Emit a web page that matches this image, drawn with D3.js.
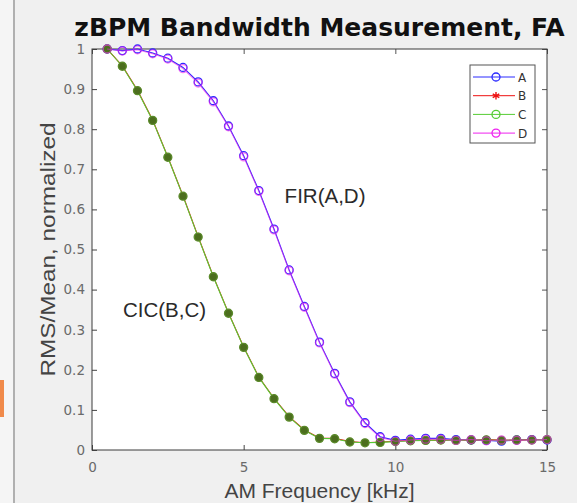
<!DOCTYPE html>
<html>
<head>
<meta charset="utf-8">
<script src="https://cdn.jsdelivr.net/npm/d3@7"></script>
<style>
  body { margin: 0; background: #f0f0f0; }
  svg { display: block; }
</style>
</head>
<body>
<div id="chart"></div>
<script>
// AM frequency (kHz) and normalized RMS/Mean for each channel
const freq = [0.5, 1, 1.5, 2, 2.5, 3, 3.5, 4, 4.5, 5, 5.5, 6, 6.5, 7, 7.5,
              8, 8.5, 9, 9.5, 10, 10.5, 11, 11.5, 12, 12.5, 13, 13.5, 14, 14.5, 15];

const seriesA = [1.0, 0.996, 1.0, 0.99, 0.977, 0.954, 0.918, 0.871, 0.808, 0.734,
                 0.647, 0.551, 0.449, 0.358, 0.269, 0.191, 0.12, 0.068, 0.033, 0.024,
                 0.027, 0.029, 0.029, 0.026, 0.025, 0.024, 0.022, 0.025, 0.026, 0.025];
const seriesB = [1.0, 0.958, 0.897, 0.823, 0.731, 0.634, 0.532, 0.433, 0.342, 0.257,
                 0.182, 0.129, 0.083, 0.05, 0.03, 0.029, 0.021, 0.018, 0.02, 0.022,
                 0.024, 0.025, 0.024, 0.025, 0.024, 0.026, 0.025, 0.024, 0.026, 0.025];
const seriesC = [1.0, 0.957, 0.896, 0.822, 0.73, 0.633, 0.531, 0.432, 0.341, 0.256,
                 0.181, 0.128, 0.082, 0.049, 0.029, 0.028, 0.02, 0.018, 0.019, 0.021,
                 0.023, 0.024, 0.025, 0.024, 0.025, 0.025, 0.024, 0.025, 0.025, 0.026];
const seriesD = [1.0, 0.995, 0.998, 0.988, 0.975, 0.951, 0.915, 0.868, 0.806, 0.731,
                 0.645, 0.549, 0.447, 0.356, 0.267, 0.189, 0.118, 0.066, 0.031, 0.022,
                 0.025, 0.027, 0.027, 0.024, 0.026, 0.023, 0.025, 0.024, 0.025, 0.026];

const seriesNames = ["A", "B", "C", "D"];
const xTicks = [0, 5, 10, 15];
const yTicks = [0, 0.1, 0.2, 0.3, 0.4, 0.5, 0.6, 0.7, 0.8, 0.9, 1];

const titleText = "zBPM Bandwidth Measurement, FA";
const xLabel = "AM Frequency [kHz]";
const yLabel = "RMS/Mean, normalized";
const notes = [{text: "FIR(A,D)", x: 6.35, y: 0.617}, {text: "CIC(B,C)", x: 1.02, y: 0.331}];

const width = 577, height = 503;
const margin = {top: 49, right: 30, bottom: 53, left: 92};

const svg = d3.select("#chart").append("svg")
  .attr("width", width)
  .attr("height", height);

svg.append("rect").attr("width", width).attr("height", height).attr("fill", "#f0f0f0");

// left neighbour panel edge (cropped figure)
svg.append("rect").attr("x", 0).attr("y", 0).attr("width", 13).attr("height", height).attr("fill", "#f5f5f5");
svg.append("line").attr("x1", 14).attr("x2", 14).attr("y1", 0).attr("y2", height)
  .attr("stroke", "#b0b0b0").attr("stroke-width", 2);
svg.append("rect").attr("x", 0).attr("y", 380).attr("width", 4).attr("height", 37).attr("fill", "#f08a4b");

const x = d3.scaleLinear().domain([0, 15]).range([margin.left, width - margin.right]);
const y = d3.scaleLinear().domain([0, 1]).range([height - margin.bottom, margin.top]);

svg.append("rect")
  .attr("x", x(0)).attr("y", y(1))
  .attr("width", x(15) - x(0)).attr("height", y(0) - y(1))
  .attr("fill", "white");

// axes, MATLAB style: ticks inward, box on
const tickFont = g => g.selectAll("text")
  .attr("font-family", "DejaVu Sans").attr("font-size", "13.5px").attr("fill", "#6a6a6a");

svg.append("g").attr("transform", `translate(0,${y(0)})`)
  .call(d3.axisBottom(x).tickValues(xTicks).tickSizeInner(-5).tickSizeOuter(0).tickPadding(12))
  .call(tickFont)
  .call(g => g.select(".domain").remove())
  .call(g => g.selectAll("line").attr("stroke", "#444"));

svg.append("g").attr("transform", `translate(${x(0)},0)`)
  .call(d3.axisLeft(y).tickValues(yTicks).tickFormat(d3.format("")).tickSizeInner(-5).tickSizeOuter(0).tickPadding(7))
  .call(tickFont)
  .call(g => g.select(".domain").remove())
  .call(g => g.selectAll("line").attr("stroke", "#444"));

svg.append("g").attr("transform", `translate(${x(15)},0)`)
  .call(d3.axisRight(y).tickValues(yTicks).tickFormat("").tickSizeInner(-5).tickSizeOuter(0))
  .call(g => g.select(".domain").remove())
  .call(g => g.selectAll("line").attr("stroke", "#555"));

svg.append("g").attr("transform", `translate(0,${y(1)})`)
  .call(d3.axisTop(x).tickValues(xTicks).tickFormat("").tickSizeInner(-5).tickSizeOuter(0))
  .call(g => g.select(".domain").remove())
  .call(g => g.selectAll("line").attr("stroke", "#555"));

svg.append("rect")
  .attr("x", x(0)).attr("y", y(1))
  .attr("width", x(15) - x(0)).attr("height", y(0) - y(1))
  .attr("fill", "none").attr("stroke", "#3a3a3a").attr("stroke-width", 1);

// series
const series = [
  {name: "A", values: seriesA, color: "#2a2aff", marker: "circle", opacity: 1},
  {name: "B", values: seriesB, color: "#ee1111", marker: "star", opacity: 1},
  {name: "C", values: seriesC, color: "#55cc33", marker: "circle", opacity: 1},
  {name: "D", values: seriesD, color: "#ee22ee", marker: "circle", opacity: 0.6}
];

const line = d3.line().x(d => x(d[0])).y(d => y(d[1]));
const starType = d3.symbolAsterisk || d3.symbolTimes;

function drawMarker(sel, s, px, py, inLegend) {
  if (s.marker === "circle") {
    const filled = s.name === "C" && !inLegend;
    sel.append("circle").attr("cx", px).attr("cy", py).attr("r", 4)
      .attr("fill", filled ? "#4c6e1e" : "none")
      .attr("stroke", filled ? "#5a8a2a" : s.color).attr("stroke-width", 1.3);
  } else {
    sel.append("path").attr("transform", `translate(${px},${py})`)
      .attr("d", d3.symbol().type(starType).size(40)())
      .attr("fill", "none").attr("stroke", s.color).attr("stroke-width", 1.4);
  }
}

series.forEach(s => {
  const pts = freq.map((f, i) => [f, s.values[i]]);
  const g = svg.append("g").attr("opacity", s.opacity);
  g.append("path").datum(pts)
    .attr("d", line)
    .attr("fill", "none")
    .attr("stroke", s.color)
    .attr("stroke-width", 1.1);
  pts.forEach(p => drawMarker(g, s, x(p[0]), y(p[1]), false));
});

// annotations
notes.forEach(n => {
  svg.append("text")
    .attr("x", x(n.x)).attr("y", y(n.y))
    .attr("font-family", "Liberation Sans, Arial").attr("font-size", "20.5px")
    .attr("fill", "#2a2a2a")
    .text(n.text);
});

// legend
const lg = svg.append("g").attr("transform", "translate(470,65)");
lg.append("rect").attr("width", 65).attr("height", 78)
  .attr("fill", "white").attr("stroke", "#555").attr("stroke-width", 1);
seriesNames.forEach((name, i) => {
  const s = series.find(d => d.name === name);
  const yy = 12 + i * 18.7;
  lg.append("line").attr("x1", 3).attr("x2", 45).attr("y1", yy).attr("y2", yy)
    .attr("stroke", s.color).attr("stroke-width", 1);
  drawMarker(lg, s, 26, yy, true);
  lg.append("text").attr("x", 48).attr("y", yy + 4.5)
    .attr("font-family", "DejaVu Sans").attr("font-size", "12px").attr("fill", "#333")
    .text(name);
});

// title and axis labels
svg.append("text")
  .attr("x", (x(0) + x(15)) / 2).attr("y", 36)
  .attr("text-anchor", "middle")
  .attr("font-family", "DejaVu Sans").attr("font-weight", "bold").attr("font-size", "25px")
  .attr("fill", "#111")
  .text(titleText);

svg.append("text")
  .attr("x", (x(0) + x(15)) / 2).attr("y", 498)
  .attr("text-anchor", "middle")
  .attr("font-family", "Liberation Sans, Arial").attr("font-size", "21px")
  .attr("fill", "#444")
  .text(xLabel);

svg.append("text")
  .attr("transform", `translate(55,${(y(0) + y(1)) / 2}) rotate(-90)`)
  .attr("text-anchor", "middle")
  .attr("font-family", "Liberation Sans, Arial").attr("font-size", "21px")
  .attr("textLength", 254).attr("lengthAdjust", "spacingAndGlyphs")
  .attr("fill", "#444")
  .text(yLabel);
</script>
</body>
</html>
